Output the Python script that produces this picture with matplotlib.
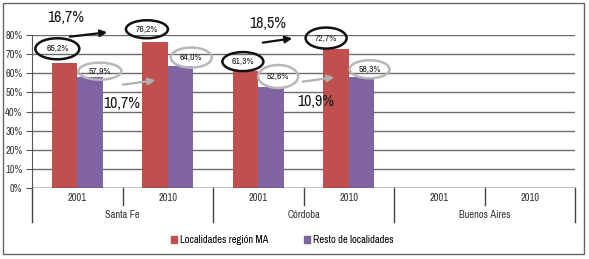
import matplotlib
matplotlib.use("Agg")
import matplotlib.pyplot as plt
from matplotlib.patches import Ellipse, Rectangle
import numpy as np

plt.rcParams['font.family'] = ['Archivo Narrow', 'Roboto Condensed', 'Liberation Sans', 'DejaVu Sans']

# ---- data ----
provinces = ["Santa Fe", "Córdoba", "Buenos Aires"]
years = ["2001", "2010"]
series_names = ["Localidades región MA", "Resto de localidades"]
region_ma = [65.2, 76.2, 61.3, 72.7, np.nan, np.nan]
resto = [57.9, 64.0, 52.6, 58.3, np.nan, np.nan]
yticks = [0, 10, 20, 30, 40, 50, 60, 70, 80]
growth_labels = ["16,7%", "10,7%", "18,5%", "10,9%"]

colors = ["#C0504D", "#8064A2"]

W, H = 589, 259
fig = plt.figure(figsize=(W / 100, H / 100), dpi=100)
ax_left, ax_right, y0px, y80px = 32, 575, 188, 35
ax = fig.add_axes([ax_left / W, (H - y0px) / H, (ax_right - ax_left) / W, (y0px - y80px) / H])

n = len(region_ma)
x = np.arange(n) + 0.5
bw = 0.28
ax.bar(x - bw / 2, region_ma, bw, color=colors[0], zorder=3)
ax.bar(x + bw / 2, resto, bw, color=colors[1], zorder=3)

ax.set_xlim(0, n)
ax.set_ylim(0, 80)
ax.set_yticks(yticks)
ax.set_yticklabels([f"{v}%" for v in yticks], fontsize=7.5, color="#333333")
ax.yaxis.grid(True, color="#6b6b6b", linewidth=1.0, zorder=0)
ax.set_axisbelow(True)
for s in ["top", "right", "bottom"]:
    ax.spines[s].set_visible(False)
ax.spines["left"].set_color("#555555")
ax.tick_params(axis="y", length=4, color="#555555", pad=3)
ax.set_xticks([])
ax.axhline(0, color="#444444", linewidth=1.0, zorder=4)

# category axis (two levels)
pxy = (y0px - y80px) / 80.0  # pixels per percent
def py(p):
    return (y0px - p) / pxy
for i in range(n + 1):
    big = (i % 2 == 0)
    ax.plot([i, i], [0, py(222 if big else 205)], color="#444444", lw=1.0, clip_on=False)
for i in range(n):
    ax.text(x[i], py(198), years[i % 2], ha="center", va="center", fontsize=7.5, color="#333333")
for g, name in enumerate(provinces):
    ax.text(2 * g + 1, py(215), name, ha="center", va="center", fontsize=7.5, color="#333333")

# value labels with ellipses
pxx = (ax_right - ax_left) / n
def ell(xc, yc, wpx, hpx, text, ec):
    e = Ellipse((xc, yc), wpx / pxx, hpx / pxy, fill=False, ec=ec, lw=1.8, clip_on=False, zorder=5)
    ax.add_patch(e)
    ax.text(xc, yc, text, ha="center", va="center", fontsize=7, color="#222222", zorder=6)

red_off = [(-0.08, 7.6), (-0.09, 6.8), (-0.03, 4.8), (-0.11, 5.7)]
red_size = [(44, 21), (42, 18), (41, 19), (41, 21)]
pur_off = [(0.11, 3.2), (0.12, 4.2), (0.08, 5.7), (0.09, 3.8)]
pur_size = [(43, 17), (41, 20), (40, 23), (40, 18)]
for i in range(4):
    v = region_ma[i]
    ell(x[i] - bw / 2 + red_off[i][0], v + red_off[i][1], *red_size[i],
        f"{v:.1f}%".replace(".", ","), "#111111")
    v = resto[i]
    ell(x[i] + bw / 2 + pur_off[i][0], v + pur_off[i][1], *pur_size[i],
        f"{v:.1f}%".replace(".", ","), "#b8b8b8")

# growth annotations
def dx(p):
    return (p - ax_left) / pxx
text_pos = [(66, 17), (122, 103), (268, 24), (316, 102)]
for lab, (tx, ty) in zip(growth_labels, text_pos):
    ax.text(dx(tx), py(ty), lab, ha="center", va="center", fontsize=11.5, color="#1a1a1a", clip_on=False)

arrows = [((67, 37), (110, 32), "#111111"), ((260, 43), (295, 38), "#111111"),
          ((120, 85), (158, 80), "#b0b0b0"), ((300, 82), (337, 77), "#b0b0b0")]
for (x1, y1), (x2, y2), c in arrows:
    ax.annotate("", xy=(dx(x2), py(y2)), xytext=(dx(x1), py(y1)),
                arrowprops=dict(arrowstyle="-|>", color=c, lw=1.6, mutation_scale=10),
                annotation_clip=False, zorder=6)

# legend
handles = [Rectangle((0, 0), 1, 1, color=c) for c in colors]
fig.legend(handles, series_names, loc="center", bbox_to_anchor=(282 / W, (H - 240) / H),
           ncol=2, frameon=False, fontsize=7.6, handlelength=0.6, handleheight=0.6,
           handletextpad=0.25, columnspacing=3.4)

# outer border
fig.patches.append(Rectangle((3 / W, 5 / H), 581 / W, 251 / H, transform=fig.transFigure,
                             fill=False, ec="#666666", lw=1.0))

fig.savefig("out.png", dpi=100)
